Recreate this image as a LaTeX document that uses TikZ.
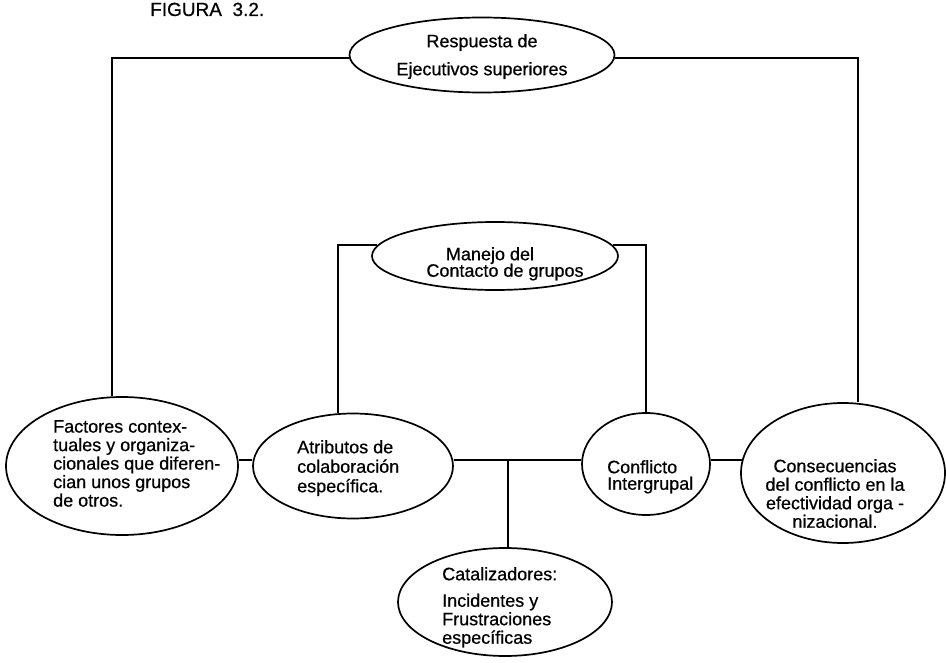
\documentclass[tikz,border=0pt]{standalone}
\usepackage{fontspec}
\setmainfont{Liberation Sans}[FakeBold=0.6]
\usetikzlibrary{shapes.geometric}
\begin{document}
\begin{tikzpicture}[x=1bp,y=-1bp,
  ell/.style={draw, ellipse, line width=1.7bp, inner sep=0},
  conn/.style={line width=1.7bp},
  txt/.style={inner sep=0, font=\fontsize{18bp}{18.5bp}\selectfont},
]
\fill[white] (0,0) rectangle (946,663);
\useasboundingbox (0,0) rectangle (946,663);

\node[anchor=base west, inner sep=0, font=\fontsize{19bp}{22bp}\selectfont] (title) at (150,16) {FIGURA\ \ 3.2.};

% ellipses
\node[ell, minimum width=265bp, minimum height=75bp] (resp) at (482,55) {};
\node[ell, minimum width=246bp, minimum height=68bp] (manejo) at (495,256) {};
\node[ell, minimum width=232bp, minimum height=138bp] (factores) at (122,466) {};
\node[ell, minimum width=200bp, minimum height=105bp] (atributos) at (353,466) {};
\node[ell, minimum width=128bp, minimum height=102bp] (conflicto) at (646,464) {};
\node[ell, minimum width=204bp, minimum height=140bp] (consec) at (843,473) {};
\node[ell, minimum width=214bp, minimum height=108bp] (catal) at (505,602) {};

% texts
\node[txt, align=center, anchor=north] (respT) at (482,34) {Respuesta de\\[9.5bp]Ejecutivos superiores};
\node[txt, align=center, anchor=north] (manejoT) at (505,247) {Manejo del\hspace*{30bp}\\[-2bp]Contacto de grupos};
\node[txt, align=left, anchor=north west] (factoresT) at (53,420) {Factores contex-\\tuales y organiza-\\cionales que diferen-\\cian unos grupos\\de otros.};
\node[txt, align=left, anchor=north west] (atributosT) at (297,440) {Atributos de\\[1bp]colaboración\\[1bp]específica.};
\node[txt, align=left, anchor=north west] (conflictoT) at (607,460) {Conflicto\\[-2bp]Intergrupal};
\node[txt, align=center, anchor=north] (consecT) at (835,459) {Consecuencias\\del conflicto en la\\efectividad orga -\\nizacional.};
\node[txt, align=left, anchor=north west] (catalT) at (442,567) {Catalizadores:\\[8bp]Incidentes y\\Frustraciones\\específicas};

% connectors
\coordinate (hl) at (0,460);
\coordinate (lv) at ([xshift=-10bp]factores.north);
\coordinate (rv) at ([xshift=15bp]consec.north);
\coordinate (rw) at ([yshift=-3bp]resp.west);
\coordinate (re) at ([yshift=-3bp]resp.east);
\draw[conn] (rw) -| (lv);
\draw[conn] (re) -| (rv);

\coordinate (mw) at ([xshift=6bp,yshift=11bp]manejo.west);
\coordinate (me) at ([xshift=-6bp,yshift=11bp]manejo.east);
\coordinate (av) at ([xshift=-15bp]atributos.north);
\draw[conn] (mw) -| (av);
\draw[conn] (me) -| (conflicto.north);

\coordinate (cw) at ([xshift=2bp]consec.west);
\draw[conn] (factores.east |- hl) -- (atributos.west |- hl);
\draw[conn] (atributos.east |- hl) -- (conflicto.west |- hl);
\draw[conn] (conflicto.east |- hl) -- (cw |- hl);

\coordinate (cv) at ([xshift=3bp]catal.north);
\draw[conn] (cv) -- (cv |- hl);
\end{tikzpicture}
\end{document}
